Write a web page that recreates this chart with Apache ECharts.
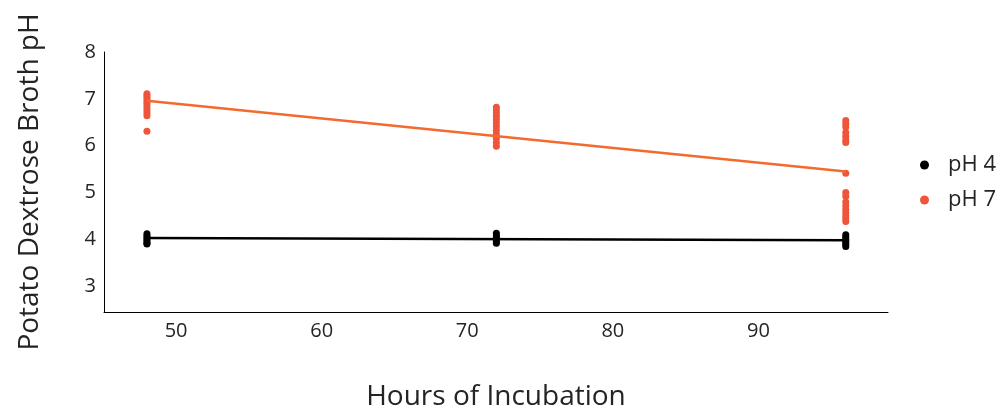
<!DOCTYPE html>
<html>
<head>
<meta charset="utf-8">
<script src="https://cdn.jsdelivr.net/npm/echarts@6/dist/echarts.min.js"></script>
<style>html,body{margin:0;padding:0;background:#fff}#c{width:1002px;height:409px}</style>
</head>
<body>
<div id="c"></div>
<script>
var hours = [48, 72, 96];
var ph7_48 = [7.11, 7.07, 7.03, 6.98, 6.93, 6.88, 6.82, 6.76, 6.70, 6.64, 6.31];
var ph7_72 = [6.82, 6.76, 6.70, 6.63, 6.56, 6.49, 6.41, 6.33, 6.25, 6.16, 6.07, 5.99];
var ph7_96 = [6.54, 6.47, 6.40, 6.28, 6.20, 6.12, 6.07, 5.41, 5.00, 4.92, 4.80, 4.72, 4.64, 4.57, 4.50, 4.44, 4.38];
var ph4_48 = [4.12, 4.08, 4.04, 4.00, 3.96, 3.92, 3.90];
var ph4_72 = [4.13, 4.08, 4.04, 4.00, 3.96, 3.92];
var ph4_96 = [4.10, 4.05, 4.01, 3.97, 3.93, 3.89, 3.85];
var trend7 = [6.96, 5.45];
var trend4 = [4.03, 3.98];
var trendHours = [48, 96];
var xTicks = [50, 60, 70, 80, 90];
var yTicks = [3, 4, 5, 6, 7, 8];

function pts(h, arr) { return arr.map(function (v) { return [h, v]; }); }
var s7 = pts(hours[0], ph7_48).concat(pts(hours[1], ph7_72), pts(hours[2], ph7_96));
var s4 = pts(hours[0], ph4_48).concat(pts(hours[1], ph4_72), pts(hours[2], ph4_96));
var l7 = trendHours.map(function (h, i) { return [h, trend7[i]]; });
var l4 = trendHours.map(function (h, i) { return [h, trend4[i]]; });

var FONT = 'Open Sans';
var TXT = '#242424';
var chart = echarts.init(document.getElementById('c'));
chart.setOption({
  animation: false,
  textStyle: { fontFamily: FONT },
  grid: { left: 104, right: 114, top: 52, bottom: 97, containLabel: false, outerBoundsMode: 'none' },
  legend: {
    orient: 'vertical', left: 915, top: 149, itemGap: 13,
    itemWidth: 9, itemHeight: 9,
    textStyle: { fontFamily: FONT, fontSize: 22, color: TXT, padding: [0, 0, 0, 14] },
    data: [{ name: 'pH 4', icon: 'circle' }, { name: 'pH 7', icon: 'circle' }]
  },
  xAxis: {
    type: 'value', min: 45.05, max: 98.9,
    name: 'Hours of Incubation', nameLocation: 'middle', nameGap: 71,
    nameTextStyle: { fontFamily: FONT, fontSize: 28, color: TXT },
    axisLine: { lineStyle: { color: '#000', width: 1 } },
    axisTick: { show: false },
    splitLine: { show: false },
    axisLabel: { customValues: xTicks, fontFamily: FONT, fontSize: 20, color: TXT, margin: 9 }
  },
  yAxis: {
    type: 'value', min: 2.45, max: 8,
    name: 'Potato Dextrose Broth pH', nameLocation: 'middle', nameGap: 60,
    nameTextStyle: { fontFamily: FONT, fontSize: 28, color: TXT },
    axisLine: { show: true, lineStyle: { color: '#000', width: 1 } },
    axisTick: { show: false },
    splitLine: { show: false },
    axisLabel: { customValues: yTicks, fontFamily: FONT, fontSize: 20, color: TXT, margin: 8 }
  },
  series: [
    { name: 'pH 4', type: 'scatter', data: s4, symbolSize: 7, itemStyle: { color: '#000000', opacity: 1 }, z: 3 },
    { name: 'pH 7', type: 'scatter', data: s7, symbolSize: 7, itemStyle: { color: '#ef553b', opacity: 1 }, z: 3 },
    { name: 'pH 4 trend', type: 'line', data: l4, symbol: 'none', lineStyle: { color: '#000000', width: 2.5 }, z: 4 },
    { name: 'pH 7 trend', type: 'line', data: l7, symbol: 'none', lineStyle: { color: '#f26a2e', width: 2.5 }, z: 4 }
  ]
});
</script>
</body>
</html>
